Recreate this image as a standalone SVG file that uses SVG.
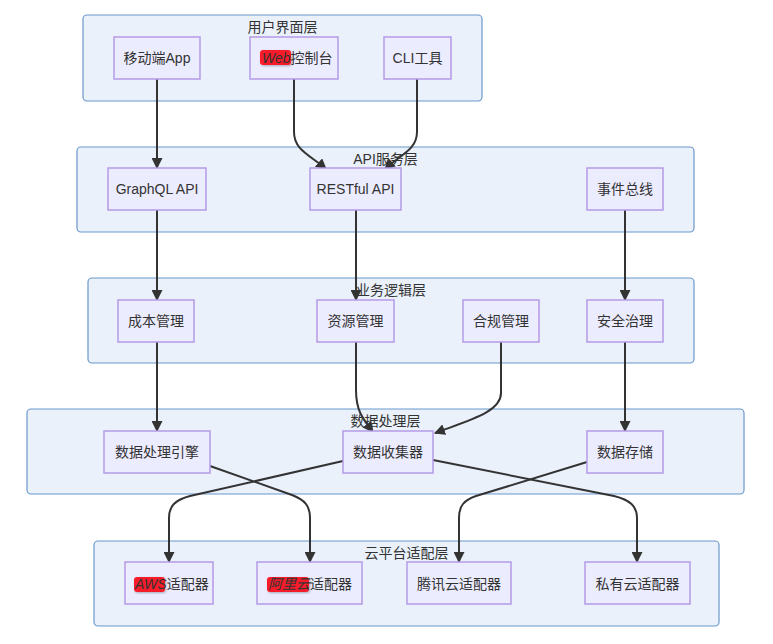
<svg xmlns="http://www.w3.org/2000/svg" width="773" height="644" viewBox="0 0 773 644">
<style>
text{font-family:"Liberation Sans","Noto Sans CJK SC",sans-serif;font-size:14px;fill:#333;}
.cl{fill:#eaf1fb;stroke:#6b98cc;stroke-width:1.2;}
.nd{fill:#ECECFF;stroke:#b49ae6;stroke-width:1.5;}
.t{text-anchor:middle;}
.e{fill:none;stroke:#333;stroke-width:2;marker-end:url(#arr);}
.hl{fill:#f81c2c;filter:url(#sh);}
.it{font-style:italic;}
</style>
<defs>
<marker id="arr" viewBox="0 0 10 10" refX="9" refY="5" markerUnits="userSpaceOnUse" markerWidth="11" markerHeight="11" orient="auto">
<path d="M0,0 L10,5 L0,10 z" fill="#333"/>
</marker>
<filter id="sh" x="-20%" y="-40%" width="140%" height="180%">
<feGaussianBlur in="SourceAlpha" stdDeviation="0.8" result="b"/>
<feOffset dx="0.5" dy="0.8" result="o"/>
<feFlood flood-color="#000" flood-opacity="0.3"/>
<feComposite in2="o" operator="in"/>
<feMerge><feMergeNode/><feMergeNode in="SourceGraphic"/></feMerge>
</filter>
</defs>

<g id="clusters">
<g id="cluster-ui"><rect class="cl" x="83" y="15" width="399" height="86" rx="4"/><text class="t" x="282.5" y="32">用户界面层</text></g>
<g id="cluster-api"><rect class="cl" x="77" y="147" width="617" height="85" rx="4"/><text class="t" x="385.5" y="164">API服务层</text></g>
<g id="cluster-biz"><rect class="cl" x="88" y="278" width="606" height="85" rx="4"/><text class="t" x="391" y="295">业务逻辑层</text></g>
<g id="cluster-data"><rect class="cl" x="27" y="409" width="717" height="85" rx="4"/><text class="t" x="385.5" y="426">数据处理层</text></g>
<g id="cluster-cloud"><rect class="cl" x="94" y="541" width="625" height="85" rx="4"/><text class="t" x="406.5" y="558">云平台适配层</text></g>
</g>

<g id="edges">
<path class="e" d="M157,79 L157,168"/>
<path class="e" d="M294,79 L294,132 C294,150 310,155 326,169"/>
<path class="e" d="M417,79 L417,132 C417,150 400,155 385,169"/>
<path class="e" d="M157,210 L157,300"/>
<path class="e" d="M356,210 L356,300"/>
<path class="e" d="M625,210 L625,300"/>
<path class="e" d="M157,342 L157,431"/>
<path class="e" d="M356,342 L356,390 C356,410 362,418 373,432"/>
<path class="e" d="M501,342 L501,393 C501,412 470,420 435,433"/>
<path class="e" d="M625,342 L625,431"/>
<path class="e" d="M210,466 L292,495 C305,500 310,506 310,518 L310,562"/>
<path class="e" d="M343,461 L190,496 C175,500 169,506 169,518 L169,562"/>
<path class="e" d="M433,460 L614,496 C630,500 637,506 637,518 L637,562"/>
<path class="e" d="M587,462 L476,496 C464,500 459,506 459,518 L459,562"/>
</g>

<g id="node-mobile"><rect class="nd" x="114" y="37" width="86" height="42"/><text class="t" x="157" y="63">移动端App</text></g>
<g id="node-web"><rect class="nd" x="250" y="37" width="88" height="42"/><rect class="hl" x="260" y="50" width="31" height="15" rx="3"/><text x="262" y="63"><tspan class="it">Web</tspan><tspan>控制台</tspan></text></g>
<g id="node-cli"><rect class="nd" x="384" y="37" width="67" height="42"/><text class="t" x="417.5" y="63">CLI工具</text></g>

<g id="node-graphql"><rect class="nd" x="108" y="168" width="98" height="42"/><text class="t" x="157" y="194">GraphQL API</text></g>
<g id="node-rest"><rect class="nd" x="310" y="168" width="91" height="42"/><text class="t" x="355.5" y="194">RESTful API</text></g>
<g id="node-bus"><rect class="nd" x="587" y="168" width="76" height="42"/><text class="t" x="625" y="194">事件总线</text></g>

<g id="node-cost"><rect class="nd" x="118" y="300" width="76" height="42"/><text class="t" x="156" y="326">成本管理</text></g>
<g id="node-res"><rect class="nd" x="317" y="300" width="77" height="42"/><text class="t" x="355.5" y="326">资源管理</text></g>
<g id="node-comp"><rect class="nd" x="463" y="300" width="76" height="42"/><text class="t" x="501" y="326">合规管理</text></g>
<g id="node-sec"><rect class="nd" x="587" y="300" width="76" height="42"/><text class="t" x="625" y="326">安全治理</text></g>

<g id="node-engine"><rect class="nd" x="104" y="431" width="106" height="42"/><text class="t" x="157" y="457">数据处理引擎</text></g>
<g id="node-collector"><rect class="nd" x="343" y="431" width="90" height="42"/><text class="t" x="388" y="457">数据收集器</text></g>
<g id="node-store"><rect class="nd" x="587" y="431" width="76" height="42"/><text class="t" x="625" y="457">数据存储</text></g>

<g id="node-aws"><rect class="nd" x="125" y="562" width="88" height="42"/><rect class="hl" x="134" y="577" width="31" height="15" rx="3"/><text x="135" y="589"><tspan class="it">AWS</tspan><tspan>适配器</tspan></text></g>
<g id="node-ali"><rect class="nd" x="257" y="562" width="105" height="42"/><rect class="hl" x="267" y="577" width="42" height="15" rx="3"/><text x="268" y="589"><tspan class="it">阿里云</tspan><tspan>适配器</tspan></text></g>
<g id="node-tencent"><rect class="nd" x="407" y="562" width="104" height="42"/><text class="t" x="459" y="589">腾讯云适配器</text></g>
<g id="node-private"><rect class="nd" x="585" y="562" width="105" height="42"/><text class="t" x="637.5" y="589">私有云适配器</text></g>
</svg>
